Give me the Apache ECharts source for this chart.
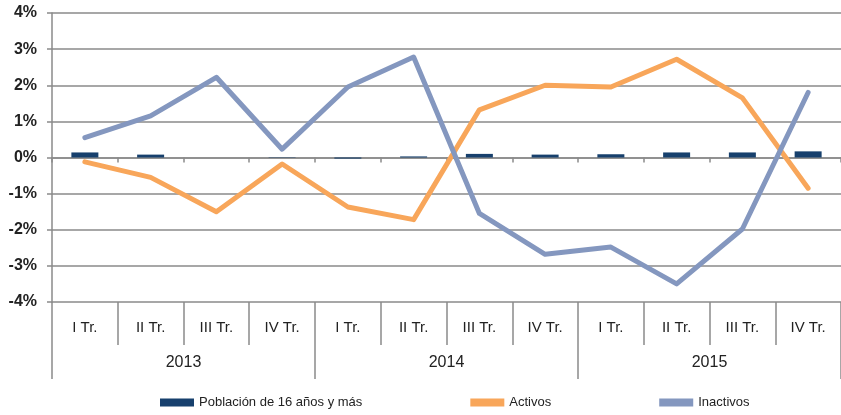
<!DOCTYPE html>
<html><head><meta charset="utf-8">
<script src="https://cdn.jsdelivr.net/npm/echarts@6/dist/echarts.min.js"></script>
<style>html,body{margin:0;padding:0;background:#fff}#c{width:841px;height:415px}</style>
</head><body><div id="c"></div>
<script>
const quarters = ['I Tr.','II Tr.','III Tr.','IV Tr.','I Tr.','II Tr.','III Tr.','IV Tr.','I Tr.','II Tr.','III Tr.','IV Tr.'];
const years = ['2013','2014','2015'];
const poblacion = [0.14, 0.08, 0.0, 0.01, -0.03, 0.03, 0.10, 0.08, 0.09, 0.14, 0.14, 0.17];
const activos = [-0.12, -0.55, -1.5, -0.18, -1.37, -1.72, 1.32, 2.0, 1.95, 2.72, 1.65, -0.85];
const inactivos = [0.55, 1.15, 2.22, 0.23, 1.95, 2.78, -1.55, -2.68, -2.48, -3.5, -1.98, 1.8];
const yTicks = [-4,-3,-2,-1,0,1,2,3,4];

function hasFont(name){
  const c = document.createElement('canvas').getContext('2d');
  const s = 'Población de 16 años y más WWiill 0123';
  c.font = '40px monospace'; const a = c.measureText(s).width;
  c.font = '40px serif'; const b = c.measureText(s).width;
  c.font = "40px '" + name + "', monospace"; const a2 = c.measureText(s).width;
  c.font = "40px '" + name + "', serif"; const b2 = c.measureText(s).width;
  return a !== a2 || b !== b2;
}
const narrow = hasFont('Liberation Sans Narrow');
const FONT = narrow ? "'Liberation Sans Narrow'" : "'Liberation Sans'";
const k = narrow ? 1 : 0.88;
const GRAY = '#8a8a8a';
const chart = echarts.init(document.getElementById('c'), null, {renderer:'canvas'});
chart.setOption({
  animation:false,
  textStyle:{fontFamily:FONT},
  grid:{left:52, top:13, width:792, height:289, containLabel:false},
  legend:{
    top:396, left:160, itemWidth:34, itemHeight:8, itemGap:108, icon:'rect', padding:0,
    textStyle:{fontFamily:FONT, fontSize:Math.round(15*k), color:'#222'},
    data:['Población de 16 años y más','Activos','Inactivos']
  },
  xAxis:[
    {type:'category', data:quarters, position:'bottom',
     axisLine:{onZero:true, lineStyle:{color:GRAY, width:1.5}},
     axisTick:{show:true, length:5, interval:0, lineStyle:{color:GRAY, width:1.5}},
     axisLabel:{show:false}, splitLine:{show:false}},
    {type:'category', data:quarters, position:'bottom',
     axisLine:{show:false, onZero:false},
     axisTick:{show:true, length:43, interval:0, lineStyle:{color:GRAY, width:1.5}},
     axisLabel:{show:true, interval:0, margin:18, fontSize:Math.round(17*k), color:'#222', fontFamily:FONT}},
    {type:'category', data:years, position:'bottom',
     axisLine:{show:false, onZero:false},
     axisTick:{show:true, length:77, interval:0, lineStyle:{color:GRAY, width:1.5}},
     axisLabel:{show:true, interval:0, margin:53, fontSize:Math.round(18*k), color:'#222', fontFamily:FONT}}
  ],
  yAxis:{
    type:'value', min:yTicks[0], max:yTicks[yTicks.length-1], interval:1,
    axisLine:{show:true, lineStyle:{color:GRAY, width:1.5}},
    axisTick:{show:true, length:5, lineStyle:{color:GRAY, width:1.5}},
    axisLabel:{formatter:'{value}%', fontSize:Math.round(18*k), color:'#222', margin:15, fontFamily:FONT, fontWeight:'bold'},
    splitLine:{show:true, lineStyle:{color:GRAY, width:1.5}}
  },
  series:[
    {name:'Población de 16 años y más', type:'bar', xAxisIndex:0, data:poblacion, barWidth:27,
     itemStyle:{color:'#17406D'}, z:2},
    {name:'Activos', type:'line', xAxisIndex:0, data:activos, showSymbol:false, symbol:'none',
     lineStyle:{color:'#F8A65A', width:5, join:'round', cap:'round'}, itemStyle:{color:'#F8A65A'}, z:3},
    {name:'Inactivos', type:'line', xAxisIndex:0, data:inactivos, showSymbol:false, symbol:'none',
     lineStyle:{color:'#8497BF', width:5, join:'round', cap:'round'}, itemStyle:{color:'#8497BF'}, z:4}
  ]
});
</script></body></html>
